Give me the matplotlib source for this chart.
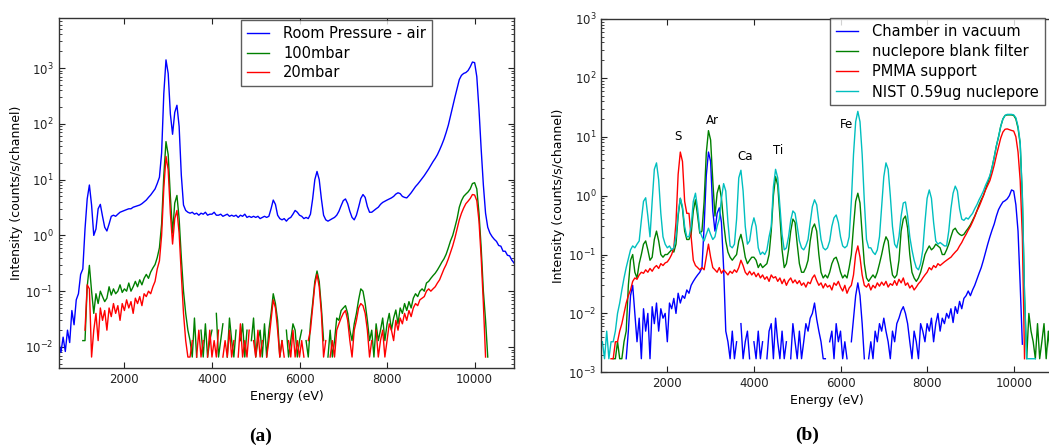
import numpy as np
import matplotlib
matplotlib.use("Agg")
import matplotlib.pyplot as plt

# energy grid shared by all spectra (eV, one value every 50 eV)
energy = np.arange(500, 10901, 50)

# ---- panel (a): chamber at different pressures ----
air_room = [
    0.012, 0.008, 0.015, 0.0083, 0.02, 0.012, 0.045, 0.025, 0.07, 0.09,      # 500
    0.2, 0.25, 1.3, 4.5, 8.0, 3.5, 1.0, 1.3, 3.0, 3.6,                      # 1000
    2.2, 1.4, 1.2, 1.6, 2.2, 2.3, 2.2, 2.4, 2.6, 2.7,                       # 1500
    2.8, 2.9, 3.0, 3.0, 3.2, 3.3, 3.4, 3.5, 3.7, 4.0,                       # 2000
    4.3, 4.8, 5.3, 6.0, 6.8, 8.5, 11, 30, 350, 1400,                        # 2500
    800, 150, 65, 160, 215, 90, 12, 3.5, 2.8, 2.6,                          # 3000
    2.5, 2.6, 2.4, 2.5, 2.3, 2.5, 2.4, 2.6, 2.3, 2.4,                       # 3500
    2.4, 2.6, 2.3, 2.3, 2.4, 2.2, 2.3, 2.4, 2.2, 2.3,                       # 4000
    2.2, 2.3, 2.1, 2.3, 2.2, 2.4, 2.1, 2.2, 2.1, 2.2,                       # 4500
    2.1, 2.2, 2.0, 2.1, 2.2, 2.1, 2.2, 3.0, 4.3, 3.6,                       # 5000
    2.3, 2.0, 1.9, 2.0, 1.8, 2.0, 2.1, 2.4, 2.8, 2.6,                       # 5500
    2.3, 2.2, 2.0, 2.1, 2.0, 2.4, 4.5, 10, 14, 10,                          # 6000
    4.5, 2.3, 1.9, 1.8, 1.9, 2.0, 2.1, 2.3, 2.7, 3.4,                       # 6500
    4.2, 4.5, 3.7, 2.7, 2.1, 1.9, 2.3, 3.2, 4.6, 5.4,                       # 7000
    4.8, 3.3, 2.6, 2.6, 2.8, 3.0, 3.2, 3.6, 3.9, 4.1,                       # 7500
    4.3, 4.5, 4.7, 5.0, 5.5, 5.8, 5.6, 5.0, 4.8, 4.7,                       # 8000
    5.2, 5.8, 6.6, 7.5, 8.3, 9.3, 10.5, 11.8, 13.5, 15.5,                   # 8500
    18, 21, 24, 28, 34, 42, 53, 70, 95, 140,                                # 9000
    210, 300, 430, 620, 740, 800, 830, 900, 1050, 1280,                     # 9500
    1250, 700, 180, 35, 8, 2.5, 1.4, 1.1, 0.95, 0.85,                       # 10000
    0.78, 0.66, 0.64, 0.52, 0.52, 0.44, 0.43, 0.36, 0.32,                   # 10500
]
p100mbar = [
    0, 0, 0, 0, 0, 0, 0, 0, 0, 0.0066,
    0, 0.013, 0.013, 0.12, 0.29, 0.1, 0.04, 0.09, 0.06, 0.1,
    0.08, 0.065, 0.075, 0.12, 0.085, 0.11, 0.09, 0.1, 0.13, 0.095,
    0.11, 0.1, 0.14, 0.1, 0.12, 0.15, 0.12, 0.16, 0.13, 0.17,
    0.2, 0.17, 0.22, 0.26, 0.3, 0.4, 0.6, 1.6, 12, 48,
    28, 5, 1.1, 3.8, 5.2, 2.0, 0.4, 0.1, 0.04, 0.02,
    0.013, 0.0066, 0.033, 0.0066, 0, 0.02, 0.0066, 0.026, 0.0066, 0.013,
    0.02, 0, 0.04, 0.0066, 0.013, 0.026, 0, 0.0066, 0.033, 0.013,
    0.0066, 0.02, 0, 0.013, 0.026, 0.0066, 0.02, 0, 0.013, 0.033,
    0.0066, 0.013, 0.02, 0.0066, 0.026, 0.0066, 0.02, 0.04, 0.09, 0.06,
    0.03, 0.0066, 0.013, 0, 0.02, 0.0066, 0.013, 0.026, 0.02, 0.0066,
    0.013, 0.02, 0, 0.013, 0.0066, 0.026, 0.06, 0.15, 0.23, 0.15,
    0.05, 0.013, 0, 0.0066, 0.02, 0.0066, 0.013, 0.033, 0.03, 0.045,
    0.05, 0.055, 0.04, 0.02, 0.013, 0.026, 0.04, 0.07, 0.11, 0.1,
    0.06, 0.03, 0.013, 0.02, 0.0066, 0.026, 0.013, 0.02, 0.033, 0.013,
    0.026, 0.04, 0.02, 0.033, 0.046, 0.026, 0.05, 0.04, 0.06, 0.045,
    0.065, 0.05, 0.075, 0.09, 0.08, 0.1, 0.11, 0.1, 0.14, 0.15,
    0.17, 0.19, 0.21, 0.24, 0.28, 0.33, 0.38, 0.46, 0.6, 0.8,
    1.0, 1.4, 2.0, 3.2, 4.2, 5.0, 5.5, 6.0, 6.8, 8.5,
    8.8, 6.8, 2.5, 0.6, 0.1, 0.03, 0.0066, 0, 0, 0,
    0, 0, 0, 0, 0, 0, 0, 0, 0,
]
p20mbar = [
    0, 0, 0, 0, 0, 0, 0, 0, 0, 0,
    0, 0, 0.02, 0.13, 0.11, 0.0066, 0.02, 0.04, 0.013, 0.05,
    0.03, 0.045, 0.02, 0.05, 0.035, 0.06, 0.04, 0.055, 0.03, 0.06,
    0.045, 0.07, 0.05, 0.065, 0.04, 0.075, 0.06, 0.08, 0.055, 0.09,
    0.08, 0.1, 0.09, 0.12, 0.15, 0.25, 0.35, 1.0, 7, 26,
    15, 2.5, 0.7, 2.0, 2.8, 1.1, 0.2, 0.04, 0.013, 0.0066,
    0.0066, 0.013, 0, 0.0066, 0.02, 0.0066, 0.013, 0, 0.0066, 0.02,
    0.0066, 0.013, 0.0066, 0.02, 0, 0.0066, 0.013, 0.0066, 0.02, 0.0066,
    0.013, 0, 0.0066, 0.026, 0.0066, 0.013, 0.0066, 0.02, 0, 0.013,
    0.0066, 0.02, 0.0066, 0.013, 0, 0.0066, 0.013, 0.03, 0.07, 0.05,
    0.02, 0.0066, 0.013, 0.0066, 0, 0.013, 0.0066, 0.02, 0.0066, 0.013,
    0.0066, 0.013, 0.0066, 0, 0.013, 0.02, 0.05, 0.13, 0.2, 0.12,
    0.04, 0.0066, 0.013, 0, 0.0066, 0.013, 0.0066, 0.02, 0.026, 0.033,
    0.04, 0.045, 0.03, 0.013, 0.0066, 0.02, 0.03, 0.05, 0.06, 0.055,
    0.04, 0.02, 0.0066, 0.013, 0, 0.02, 0.0066, 0.013, 0.02, 0.0066,
    0.013, 0.026, 0.02, 0.013, 0.03, 0.02, 0.033, 0.026, 0.04, 0.03,
    0.045, 0.035, 0.05, 0.06, 0.055, 0.07, 0.075, 0.08, 0.1, 0.11,
    0.1, 0.11, 0.12, 0.14, 0.16, 0.2, 0.25, 0.3, 0.38, 0.5,
    0.65, 0.9, 1.3, 1.9, 2.5, 3.1, 3.7, 4.1, 4.6, 5.4,
    5.3, 4.2, 1.8, 0.4, 0.06, 0.0066, 0, 0, 0, 0,
    0, 0, 0, 0, 0, 0, 0, 0, 0,
]

# ---- panel (b): sample supports ----
vacuum = [
    0, 0, 0, 0, 0, 0, 0, 0, 0, 0,
    0, 0.0017, 0.005, 0.02, 0.03, 0.01, 0.0033, 0.0083, 0.0017, 0.012,
    0.005, 0.01, 0.0017, 0.013, 0.0067, 0.015, 0.005, 0.012, 0.0083, 0.01,
    0.0033, 0.015, 0.012, 0.018, 0.01, 0.022, 0.015, 0.02, 0.018, 0.025,
    0.022, 0.03, 0.035, 0.04, 0.045, 0.05, 0.06, 0.3, 2.2, 5.5,
    3.8, 0.55, 0.25, 0.5, 0.62, 0.35, 0.06, 0.005, 0.0033, 0.0017,
    0.005, 0.0017, 0.0033, 0, 0.0067, 0.0017, 0.0033, 0.005, 0.0017, 0,
    0.0033, 0.0017, 0.005, 0.0017, 0.0033, 0, 0.0017, 0.005, 0.0067, 0.0017,
    0.0083, 0.0033, 0.0017, 0.005, 0.0017, 0.0033, 0, 0.0017, 0.0067, 0.0033,
    0.0017, 0.005, 0.0017, 0.0033, 0.0067, 0.005, 0.0083, 0.01, 0.015, 0.008,
    0.005, 0.0033, 0.0017, 0.0017, 0, 0.0033, 0.005, 0.0017, 0.0067, 0.0033,
    0.005, 0.0017, 0.0033, 0.0017, 0, 0.0033, 0.008, 0.02, 0.033, 0.02,
    0.0067, 0.0017, 0, 0.0017, 0.0033, 0.0017, 0.005, 0.0033, 0.0067, 0.005,
    0.0083, 0.005, 0.0033, 0.0017, 0.005, 0.0033, 0.0067, 0.0083, 0.011, 0.013,
    0.01, 0.0067, 0.0033, 0.0017, 0.005, 0.0033, 0.0017, 0.0067, 0.005, 0.0033,
    0.0067, 0.005, 0.0083, 0.0033, 0.0067, 0.01, 0.005, 0.0083, 0.0067, 0.01,
    0.0083, 0.012, 0.007, 0.013, 0.01, 0.016, 0.012, 0.018, 0.02, 0.024,
    0.02, 0.025, 0.03, 0.038, 0.048, 0.06, 0.08, 0.11, 0.15, 0.2,
    0.26, 0.33, 0.45, 0.58, 0.68, 0.78, 0.82, 0.88, 1.0, 1.25,
    1.2, 0.7, 0.25, 0.03, 0.003, 0, 0, 0, 0, 0,
    0, 0, 0, 0, 0, 0, 0, 0, 0,
]
blank_filter = [
    0, 0, 0, 0, 0, 0.0017, 0.0017, 0.0033, 0.0017, 0.0017,
    0.0033, 0.005, 0.03, 0.08, 0.1, 0.05, 0.04, 0.07, 0.1, 0.15,
    0.17, 0.12, 0.08, 0.09, 0.18, 0.25, 0.17, 0.1, 0.09, 0.1,
    0.1, 0.11, 0.12, 0.11, 0.15, 0.45, 0.9, 0.6, 0.25, 0.18,
    0.18, 0.22, 0.55, 0.85, 0.45, 0.23, 0.25, 0.8, 5.3, 12.7,
    8.8, 1.8, 0.45, 1.1, 1.5, 0.9, 0.35, 0.17, 0.11, 0.09,
    0.08, 0.09, 0.1, 0.17, 0.22, 0.15, 0.09, 0.07, 0.08, 0.09,
    0.09, 0.08, 0.06, 0.07, 0.06, 0.065, 0.07, 0.1, 0.25, 1.0,
    2.1, 1.5, 0.45, 0.12, 0.06, 0.07, 0.12, 0.25, 0.4, 0.35,
    0.15, 0.07, 0.05, 0.05, 0.06, 0.08, 0.17, 0.28, 0.33, 0.25,
    0.1, 0.05, 0.04, 0.045, 0.04, 0.05, 0.07, 0.085, 0.09, 0.07,
    0.05, 0.04, 0.045, 0.04, 0.06, 0.1, 0.3, 0.8, 1.1, 0.75,
    0.22, 0.07, 0.04, 0.035, 0.04, 0.045, 0.04, 0.05, 0.07, 0.1,
    0.15, 0.2, 0.17, 0.08, 0.045, 0.04, 0.045, 0.08, 0.25, 0.4,
    0.45, 0.28, 0.1, 0.05, 0.04, 0.035, 0.04, 0.05, 0.07, 0.1,
    0.12, 0.14, 0.12, 0.13, 0.15, 0.14, 0.13, 0.1, 0.1, 0.12,
    0.15, 0.2, 0.26, 0.28, 0.24, 0.22, 0.21, 0.22, 0.25, 0.28,
    0.32, 0.38, 0.45, 0.55, 0.7, 0.85, 1.0, 1.3, 1.65, 2.1,
    3.0, 4.5, 7, 10, 15, 20, 23, 23.5, 23.5, 23.5,
    23, 20, 14, 7.5, 0.9, 0.02, 0.0017, 0.01, 0.005, 0.0033,
    0.0017, 0.0067, 0.0017, 0.0033, 0.0067, 0.0017, 0.005, 0.0017, 0.0067,
]
pmma = [
    0, 0, 0, 0, 0.0017, 0.0017, 0.0033, 0.0033, 0.005, 0.0067,
    0.01, 0.015, 0.02, 0.025, 0.035, 0.04, 0.038, 0.045, 0.05, 0.048,
    0.055, 0.05, 0.058, 0.052, 0.06, 0.065, 0.058, 0.07, 0.065, 0.072,
    0.075, 0.085, 0.1, 0.13, 0.35, 2.3, 5.5, 3.8, 0.8, 0.5,
    0.5, 0.2, 0.08, 0.065, 0.06, 0.055, 0.06, 0.055, 0.09, 0.15,
    0.09, 0.06, 0.055, 0.05, 0.06, 0.048, 0.055, 0.05, 0.045, 0.052,
    0.048, 0.055, 0.05, 0.06, 0.08, 0.065, 0.05, 0.045, 0.052, 0.045,
    0.05, 0.042, 0.048, 0.04, 0.045, 0.038, 0.042, 0.035, 0.045, 0.04,
    0.042, 0.035, 0.04, 0.032, 0.038, 0.03, 0.036, 0.04, 0.033, 0.037,
    0.032, 0.036, 0.03, 0.033, 0.028, 0.034, 0.032, 0.04, 0.045, 0.036,
    0.03, 0.033, 0.027, 0.032, 0.028, 0.03, 0.025, 0.033, 0.03, 0.035,
    0.028, 0.024, 0.03, 0.022, 0.027, 0.03, 0.045, 0.1, 0.14, 0.09,
    0.045, 0.03, 0.028, 0.032, 0.025, 0.03, 0.027, 0.033, 0.029, 0.034,
    0.03, 0.035, 0.028, 0.032, 0.03, 0.036, 0.03, 0.038, 0.033, 0.04,
    0.03, 0.033, 0.027, 0.03, 0.025, 0.028, 0.032, 0.035, 0.04, 0.045,
    0.05, 0.06, 0.055, 0.065, 0.06, 0.07, 0.065, 0.07, 0.075, 0.08,
    0.085, 0.09, 0.1, 0.11, 0.12, 0.14, 0.16, 0.19, 0.22, 0.26,
    0.3, 0.36, 0.44, 0.55, 0.65, 0.8, 1.0, 1.25, 1.5, 1.8,
    2.4, 3.3, 4.8, 6.8, 9.5, 12, 13.4, 13.6, 13.2, 12.8,
    12.5, 10, 5.5, 1.8, 0.2, 0.0017, 0, 0, 0, 0,
    0, 0, 0, 0, 0, 0, 0, 0, 0,
]
nist = [
    0.0033, 0.0017, 0.005, 0.0017, 0.0033, 0.0033, 0.005, 0.01, 0.015, 0.025,
    0.04, 0.06, 0.085, 0.12, 0.14, 0.13, 0.15, 0.17, 0.38, 0.8,
    0.92, 0.45, 0.2, 0.8, 2.8, 3.6, 1.85, 0.5, 0.2, 0.15,
    0.13, 0.14, 0.12, 0.13, 0.2, 0.5, 0.9, 0.65, 0.3, 0.2,
    0.2, 0.3, 0.8, 1.1, 0.6, 0.25, 0.2, 0.17, 0.22, 0.28,
    0.22, 0.18, 0.2, 0.3, 0.4, 0.9, 1.6, 1.2, 0.35, 0.14,
    0.13, 0.15, 0.4, 2.0, 2.7, 1.2, 0.3, 0.15, 0.17, 0.3,
    0.42, 0.3, 0.13, 0.1, 0.11, 0.1, 0.12, 0.2, 0.3, 1.4,
    2.8, 2.0, 0.65, 0.22, 0.12, 0.13, 0.2, 0.38, 0.55, 0.5,
    0.3, 0.17, 0.13, 0.12, 0.14, 0.18, 0.35, 0.65, 0.85, 0.7,
    0.35, 0.18, 0.13, 0.12, 0.13, 0.17, 0.3, 0.42, 0.47, 0.35,
    0.2, 0.14, 0.13, 0.14, 0.2, 0.8, 5, 18, 27, 18,
    5, 0.8, 0.18, 0.13, 0.13, 0.11, 0.1, 0.12, 0.2, 0.65,
    2.1, 3.6, 2.8, 1.0, 0.3, 0.15, 0.13, 0.2, 0.45, 0.75,
    0.78, 0.45, 0.2, 0.12, 0.08, 0.06, 0.055, 0.07, 0.12, 0.35,
    0.9, 1.25, 0.9, 0.35, 0.17, 0.15, 0.16, 0.15, 0.14, 0.14,
    0.25, 0.6, 1.1, 1.45, 1.2, 0.6, 0.4, 0.38, 0.42, 0.4,
    0.45, 0.5, 0.6, 0.7, 0.85, 1.0, 1.2, 1.5, 1.8, 2.2,
    3.0, 4.5, 7, 10, 15, 20, 23, 24, 24, 24,
    23.5, 21, 15, 8, 1.0, 0.02, 0.0017, 0.0017, 0.0017, 0.0017,
    0.0017, 0, 0, 0, 0, 0, 0, 0, 0,
]

# element labels of panel (b): name, energy, height
peak_names = ["S", "Ar", "Ca", "Ti", "Fe"]
peak_pos = [2250, 3030, 3790, 4560, 6140]
peak_height = [10, 18.7, 4.7, 5.8, 16.3]


def style_axes(ax, xlim, ylim, right_ticks=True):
    ax.set_yscale("log", nonpositive="mask")
    ax.set_xlim(*xlim)
    ax.set_ylim(*ylim)
    ax.set_xticks([2000, 4000, 6000, 8000, 10000])
    ax.tick_params(which="both", direction="in", top=True, right=right_ticks,
                   labelsize=8.5, colors="#222222")
    ax.tick_params(which="major", length=4)
    ax.tick_params(which="minor", length=2)
    for s in ax.spines.values():
        s.set_color("#333333")
        s.set_linewidth(1.0)
    ax.set_xlabel("Energy (eV)", fontsize=9, labelpad=3)
    ax.set_ylabel("Intensity (counts/s/channel)", fontsize=9, labelpad=2)


fig = plt.figure(figsize=(10.49, 4.48), dpi=100)

ax1 = fig.add_axes([0.056, 0.1786, 0.434, 0.782])
ax1.plot(energy, air_room, color="blue", lw=1.0, label="Room Pressure - air")
ax1.plot(energy, p100mbar, color="green", lw=1.0, label="100mbar")
ax1.plot(energy, p20mbar, color="red", lw=1.0, label="20mbar")
style_axes(ax1, (500, 10900), (0.0042, 8000))
leg1 = ax1.legend(loc="upper left", bbox_to_anchor=(0.40, 0.992), borderaxespad=0,
                  fontsize=10.5, fancybox=False, handlelength=1.5, handletextpad=1.0,
                  labelspacing=0.3)
leg1.get_frame().set_edgecolor("#333333")
leg1.get_frame().set_linewidth(1.0)

# the right part of panel (b) is cut by the figure edge, as in the source
ax2 = fig.add_axes([0.573, 0.169, 0.4305, 0.7886])
ax2.plot(energy, vacuum, color="blue", lw=1.0, label="Chamber in vacuum")
ax2.plot(energy, blank_filter, color="green", lw=1.0, label="nuclepore blank filter")
ax2.plot(energy, pmma, color="red", lw=1.0, label="PMMA support")
ax2.plot(energy, nist, color="c", lw=1.0, label="NIST 0.59ug nuclepore")
style_axes(ax2, (470, 10900), (1e-3, 1e3), right_ticks=False)
for name, x, y in zip(peak_names, peak_pos, peak_height):
    ax2.text(x, y, name, fontsize=8.5, ha="center", va="center")
leg2 = ax2.legend(loc="upper left", bbox_to_anchor=(0.507, 1.003), borderaxespad=0,
                  fontsize=10.5, fancybox=False, handlelength=1.5, handletextpad=1.0,
                  labelspacing=0.36)
leg2.get_frame().set_edgecolor("#333333")
leg2.get_frame().set_linewidth(1.0)

fig.text(261 / 1049, 1 - 436 / 448, "(a)", fontsize=14, fontweight="bold",
         family="Liberation Serif", ha="center", va="center")
fig.text(807 / 1049, 1 - 435 / 448, "(b)", fontsize=14, fontweight="bold",
         family="Liberation Serif", ha="center", va="center")

fig.savefig("out.png", dpi=100)
